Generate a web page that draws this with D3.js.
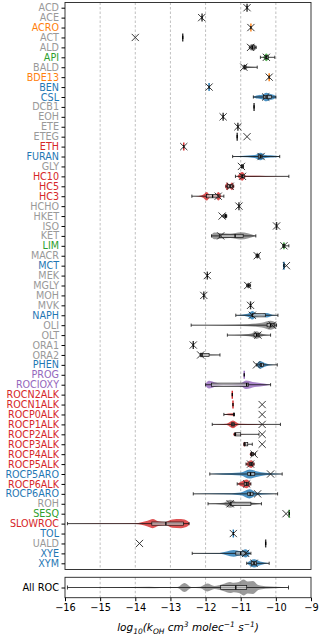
<!DOCTYPE html>
<html>
<head>
<meta charset="utf-8">
<script src="https://cdn.jsdelivr.net/npm/d3@7"></script>
<style>
  body { margin: 0; background: #fff; }
  text { font-family: "DejaVu Sans", sans-serif; }
</style>
</head>
<body>
<div id="chart"></div>
<script>
// species shown on the y axis, top to bottom
var species = ["ACD","ACE","ACRO","ACT","ALD","API","BALD","BDE13","BEN","CSL","DCB1","EOH","ETE","ETEG","ETH","FURAN","GLY","HC10","HC5","HC3","HCHO","HKET","ISO","KET","LIM","MACR","MCT","MEK","MGLY","MOH","MVK","NAPH","OLI","OLT","ORA1","ORA2","PHEN","PROG","ROCIOXY","ROCN2ALK","ROCN1ALK","ROCP0ALK","ROCP1ALK","ROCP2ALK","ROCP3ALK","ROCP4ALK","ROCP5ALK","ROCP5ARO","ROCP6ALK","ROCP6ARO","ROH","SESQ","SLOWROC","TOL","UALD","XYE","XYM"];

// colour group of each species
var group = ["gray","gray","orange","gray","gray","green","gray","orange","blue","blue","gray","gray","gray","gray","red","blue","gray","red","red","red","gray","gray","gray","gray","green","gray","blue","gray","gray","gray","gray","blue","gray","gray","gray","gray","blue","purple","purple","red","red","red","red","red","red","red","red","blue","red","blue","gray","green","red","blue","gray","blue","blue"];

// log10 kOH of the mechanism surrogate (x marker), null = none
var surrogateK = [-10.82,-12.11,-10.71,-14.0,-10.72,-10.27,-10.91,-10.19,-11.9,-10.29,null,-11.5,-11.08,-10.82,-12.62,-10.42,-10.98,-10.95,-11.3,-11.64,-11.05,-11.53,-9.98,-11.57,-9.77,-10.53,-9.7,-11.95,-10.8,-12.05,-10.72,-10.67,-10.1,-10.51,-12.35,-12.14,-10.55,null,null,null,-10.39,-10.39,-10.39,-10.39,-10.39,-10.62,-10.72,-10.15,-10.83,-10.52,-11.3,-9.71,null,-11.21,-13.88,-10.86,-10.62];

// box stats of mapped species: [min, q1, median, q3, max]
var boxStats = [
  [-10.82,-10.82,-10.82,-10.82,-10.82],
  [-12.1,-12.1,-12.1,-12.1,-12.1],
  [-10.71,-10.71,-10.71,-10.71,-10.71],
  [-12.65,-12.65,-12.65,-12.65,-12.65],
  [-10.74,-10.7,-10.66,-10.6,-10.56],
  [-10.44,-10.3,-10.27,-10.22,-10.03],
  [-10.91,-10.9,-10.88,-10.85,-10.53],
  [-10.19,-10.19,-10.19,-10.19,-10.19],
  [-11.9,-11.9,-11.9,-11.9,-11.9],
  [-10.64,-10.35,-10.25,-10.12,-10.0],
  [-10.62,-10.62,-10.62,-10.62,-10.62],
  [-11.5,-11.5,-11.5,-11.5,-11.5],
  [-11.08,-11.08,-11.08,-11.08,-11.08],
  [-11.1,-11.1,-11.1,-11.1,-11.1],
  [-12.62,-12.62,-12.62,-12.62,-12.62],
  [-11.23,-10.5,-10.44,-10.4,-9.89],
  [-10.98,-10.98,-10.96,-10.93,-10.92],
  [-11.15,-10.98,-10.95,-10.9,-9.63],
  [-11.42,-11.38,-11.3,-11.24,-11.2],
  [-12.39,-11.97,-11.8,-11.64,-11.48],
  [-11.05,-11.05,-11.05,-11.05,-11.05],
  [-11.5,-11.45,-11.43,-11.42,-11.4],
  [-9.98,-9.98,-9.98,-9.98,-9.98],
  [-11.83,-11.6,-11.16,-10.93,-10.57],
  [-9.8,-9.78,-9.77,-9.75,-9.63],
  [-10.56,-10.54,-10.53,-10.5,-10.48],
  [-9.77,-9.77,-9.77,-9.77,-9.77],
  [-11.95,-11.95,-11.95,-11.95,-11.95],
  [-10.83,-10.8,-10.78,-10.76,-10.72],
  [-12.05,-12.05,-12.05,-12.05,-12.05],
  [-10.72,-10.72,-10.72,-10.72,-10.72],
  [-11.14,-10.67,-10.67,-10.3,-9.94],
  [-12.41,-10.25,-10.15,-10.05,-9.98],
  [-11.38,-10.62,-10.55,-10.48,-10.15],
  [-12.35,-12.35,-12.35,-12.35,-12.35],
  [-12.14,-12.14,-12.1,-11.9,-11.59],
  [-10.55,-10.45,-10.42,-10.35,-9.96],
  [-10.9,-10.9,-10.9,-10.9,-10.9],
  [-12.0,-11.83,-10.83,-10.78,-10.15],
  [-11.24,-11.24,-11.24,-11.24,-11.24],
  [-11.22,-11.22,-11.22,-11.22,-11.22],
  [-11.48,-11.2,-11.19,-11.19,-11.19],
  [-11.81,-11.26,-11.22,-11.18,-9.87],
  [-11.18,-11.16,-11.15,-11.0,-10.48],
  [-10.91,-10.9,-10.88,-10.8,-10.67],
  [-10.72,-10.7,-10.68,-10.64,-10.58],
  [-10.85,-10.74,-10.7,-10.66,-10.62],
  [-11.88,-10.8,-10.72,-10.6,-9.82],
  [-11.1,-10.9,-10.83,-10.78,-10.71],
  [-12.35,-10.8,-10.73,-10.65,-9.95],
  [-11.93,-11.3,-11.28,-10.71,-10.41],
  [-9.62,-9.62,-9.62,-9.62,-9.62],
  [-15.93,-13.53,-13.13,-12.63,-12.47],
  [-11.21,-11.21,-11.21,-11.21,-11.21],
  [-10.29,-10.29,-10.29,-10.29,-10.29],
  [-12.38,-11.14,-11.0,-10.86,-10.71],
  [-10.83,-10.7,-10.62,-10.55,-10.19]
];

// violin density knots [log10 k, relative density], empty = single value
var densities = [
  [],[],[],[],
  [[-10.78,0],[-10.72,0.6],[-10.66,0.7],[-10.6,0.6],[-10.55,0]],
  [[-10.36,0],[-10.27,0.8],[-10.19,0]],
  [[-10.95,0],[-10.9,0.6],[-10.82,0.2],[-10.6,0.05],[-10.53,0]],
  [],[],
  [[-10.66,0],[-10.55,0.3],[-10.4,0.45],[-10.27,0.9],[-10.15,0.6],[-10.05,0.4],[-9.98,0]],
  [],[],[],[],[],
  [[-11.25,0],[-11.0,0.1],[-10.6,0.3],[-10.44,0.8],[-10.3,0.3],[-10.0,0.15],[-9.88,0]],
  [[-11.0,0],[-10.96,0.4],[-10.92,0]],
  [[-11.1,0],[-10.95,0.9],[-10.85,0.15],[-10.3,0.1],[-9.68,0]],
  [[-11.45,0],[-11.38,0.8],[-11.32,0.3],[-11.25,0.8],[-11.18,0]],
  [[-12.4,0],[-12.2,0.05],[-12.05,0.4],[-11.97,0.9],[-11.85,0.1],[-11.72,0.2],[-11.64,0.9],[-11.55,0]],
  [],
  [[-11.5,0],[-11.43,0.6],[-11.38,0]],
  [],
  [[-11.85,0],[-11.75,0.7],[-11.55,0.55],[-11.3,0.45],[-11.0,0.75],[-10.8,0.55],[-10.6,0.1],[-10.55,0]],
  [[-9.82,0],[-9.77,0.8],[-9.72,0]],
  [[-10.58,0],[-10.53,0.7],[-10.48,0]],
  [[-9.8,0],[-9.77,0.7],[-9.74,0]],
  [],
  [[-10.84,0],[-10.78,0.6],[-10.72,0]],
  [],[],
  [[-11.15,0],[-10.8,0.3],[-10.67,0.9],[-10.55,0.3],[-10.4,0.2],[-10.26,0.45],[-10.1,0.1],[-9.93,0]],
  [[-12.41,0],[-11.5,0.05],[-10.8,0.2],[-10.4,0.5],[-10.15,0.95],[-10.0,0.5],[-9.97,0]],
  [[-11.38,0],[-11.0,0.1],[-10.7,0.35],[-10.55,0.8],[-10.4,0.3],[-10.15,0]],
  [],
  [[-12.18,0],[-12.14,0.5],[-12.0,0.1],[-11.6,0]],
  [[-10.56,0],[-10.45,0.8],[-10.35,0.5],[-10.2,0.15],[-9.96,0]],
  [],
  [[-12.02,0],[-11.9,0.8],[-11.75,0.5],[-11.5,0.1],[-11.0,0.3],[-10.85,0.9],[-10.6,0.5],[-10.3,0.2],[-10.15,0]],
  [],[],
  [[-11.48,0],[-11.22,0.25],[-11.18,0]],
  [[-11.81,0],[-11.4,0.15],[-11.22,0.8],[-11.05,0.15],[-10.5,0.05],[-9.87,0]],
  [[-11.22,0],[-11.17,0.4],[-11.1,0.05],[-10.48,0]],
  [[-10.93,0],[-10.9,0.5],[-10.85,0]],
  [[-10.75,0],[-10.7,0.4],[-10.6,0]],
  [[-10.86,0],[-10.7,0.8],[-10.6,0]],
  [[-11.9,0],[-11.5,0.15],[-11.0,0.3],[-10.75,0.95],[-10.55,0.6],[-10.3,0.25],[-10.0,0.1],[-9.82,0]],
  [[-11.1,0],[-10.95,0.6],[-10.83,0.9],[-10.75,0.5],[-10.7,0]],
  [[-12.35,0],[-11.5,0.1],[-11.0,0.3],[-10.75,0.95],[-10.55,0.3],[-10.2,0.08],[-9.95,0]],
  [[-11.93,0],[-11.5,0.2],[-11.3,0.85],[-11.1,0.3],[-10.8,0.3],[-10.41,0]],
  [],
  [[-15.95,0],[-15.0,0.05],[-14.0,0.1],[-13.65,0.6],[-13.5,0.95],[-13.35,0.5],[-13.15,0.35],[-12.95,0.85],[-12.7,0.95],[-12.5,0.5],[-12.45,0]],
  [],[],
  [[-12.38,0],[-11.6,0.1],[-11.2,0.7],[-11.0,0.45],[-10.87,0.85],[-10.72,0]],
  [[-10.83,0],[-10.62,0.85],[-10.45,0.4],[-10.19,0]]
];

// all ROC species together (bottom panel)
var allRocStats = [-15.93,-11.57,-11.14,-10.83,-9.64];
var allRocDensity = [[-15.93,0],[-14.5,0.03],[-13.6,0.1],[-13.3,0.05],[-12.8,0.05],[-12.6,0.55],[-12.4,0.05],[-12.15,0.1],[-11.95,0.5],[-11.75,0.2],[-11.5,0.45],[-11.3,0.7],[-11.2,0.6],[-11.05,0.7],[-10.92,1.0],[-10.8,0.75],[-10.65,0.8],[-10.5,0.3],[-10.3,0.15],[-10.0,0.08],[-9.64,0]];

var xTicks = [-16,-15,-14,-13,-12,-11,-10,-9];

var colors = {gray:"#7f7f7f", orange:"#ff7f0e", green:"#2ca02c", blue:"#1f77b4", red:"#d62728", purple:"#9467bd"};
var labelColors = {gray:"#999999", orange:"#ff7f0e", green:"#2ca02c", blue:"#1f77b4", red:"#d62728", purple:"#9467bd"};

// dimensiones
var width = 320, height = 636;
var left = 65, right = 311;
var topY0 = 2.5, topY1 = 569.5;
var botY0 = 577.3, botY1 = 597.7, botMid = 587.5;

var svg = d3.select("#chart").append("svg")
  .attr("width", width)
  .attr("height", height);

var x = d3.scaleLinear().domain([-16, -9]).range([left, right]);
var y = d3.scalePoint().domain(species).range([7.7, 563.3]);
var w = d3.scaleLinear().domain([0, 1]).range([0, 4.8]);
var wAll = d3.scaleLinear().domain([0, 1]).range([0, 8]);

// gridlines
[[topY0, topY1], [botY0, botY1]].forEach(function(p) {
  svg.append("g").selectAll("line")
    .data(xTicks.slice(1, -1))
    .enter().append("line")
    .attr("x1", function(d) { return x(d); })
    .attr("x2", function(d) { return x(d); })
    .attr("y1", p[0]).attr("y2", p[1])
    .attr("stroke", "#b0b0b0")
    .attr("stroke-width", 0.8)
    .attr("stroke-dasharray", "2.5,2");
});

function drawRow(g, stats, dens, color, wScale, boxH) {
  if (dens.length) {
    var area = d3.area()
      .x(function(d) { return x(d[0]); })
      .y0(function(d) { return -wScale(d[1]); })
      .y1(function(d) { return wScale(d[1]); })
      .curve(d3.curveMonotoneX);
    g.append("path")
      .attr("d", area(dens))
      .attr("fill", color)
      .attr("fill-opacity", 0.8);
  }
  var lo = stats[0], q1 = stats[1], med = stats[2], q3 = stats[3], hi = stats[4];
  if (lo === hi) {
    g.append("line")
      .attr("x1", x(med)).attr("x2", x(med))
      .attr("y1", -4).attr("y2", 4)
      .attr("stroke", color === colors.gray ? "#333" : color)
      .attr("stroke-width", 1.4);
  } else {
    g.append("line")
      .attr("x1", x(lo)).attr("x2", x(hi))
      .attr("y1", 0).attr("y2", 0)
      .attr("stroke", "#111").attr("stroke-width", 0.8);
    [lo, hi].forEach(function(v) {
      g.append("line")
        .attr("x1", x(v)).attr("x2", x(v))
        .attr("y1", -boxH).attr("y2", boxH)
        .attr("stroke", "#111").attr("stroke-width", 0.8);
    });
    g.append("rect")
      .attr("x", x(q1)).attr("y", -boxH)
      .attr("width", Math.max(0.5, x(q3) - x(q1)))
      .attr("height", boxH * 2)
      .attr("fill", "#e6e6e6").attr("fill-opacity", 0.6)
      .attr("stroke", "#111").attr("stroke-width", 0.7);
  }
  g.append("line")
    .attr("x1", x(med)).attr("x2", x(med))
    .attr("y1", -boxH).attr("y2", boxH)
    .attr("stroke", "#000").attr("stroke-width", 1.3);
}

var rows = svg.append("g").selectAll("g")
  .data(species)
  .enter().append("g")
  .attr("transform", function(d) { return "translate(0," + y(d) + ")"; });

rows.each(function(d, i) {
  drawRow(d3.select(this), boxStats[i], densities[i], colors[group[i]], w, 1.6);
});

// surrogate markers
var cross = "M-3.6,-3.6L3.6,3.6M-3.6,3.6L3.6,-3.6";
rows.filter(function(d, i) { return surrogateK[i] !== null; })
  .append("path")
  .attr("d", cross)
  .attr("transform", function(d) { return "translate(" + x(surrogateK[species.indexOf(d)]) + ",0)"; })
  .attr("fill", "none")
  .attr("stroke", "#222")
  .attr("stroke-width", 0.9);

// bottom panel
var allG = svg.append("g").attr("transform", "translate(0," + botMid + ")");
drawRow(allG, allRocStats, allRocDensity, "#7f7f7f", wAll, 2);

// frames
svg.append("rect")
  .attr("x", left).attr("y", topY0)
  .attr("width", right - left).attr("height", topY1 - topY0)
  .attr("fill", "none").attr("stroke", "#222").attr("stroke-width", 0.9);
svg.append("rect")
  .attr("x", left).attr("y", botY0)
  .attr("width", right - left).attr("height", botY1 - botY0)
  .attr("fill", "none").attr("stroke", "#222").attr("stroke-width", 0.9);

// y axis
var yAxis = svg.append("g")
  .attr("transform", "translate(" + left + ",0)")
  .call(d3.axisLeft(y).tickSize(3.5).tickPadding(2.5));
yAxis.select(".domain").remove();
yAxis.selectAll("text")
  .style("font-family", "DejaVu Sans")
  .style("font-size", "9.6px")
  .attr("fill", function(d) { return labelColors[group[species.indexOf(d)]]; });

var yAll = d3.scalePoint().domain(["All ROC"]).range([botMid, botMid]);
var yAllAxis = svg.append("g")
  .attr("transform", "translate(" + left + ",0)")
  .call(d3.axisLeft(yAll).tickSize(3.5).tickPadding(2.5));
yAllAxis.select(".domain").remove();
yAllAxis.selectAll("text")
  .style("font-family", "DejaVu Sans")
  .style("font-size", "9.8px")
  .attr("fill", "#000");

// x axis
var xAxis = svg.append("g")
  .attr("transform", "translate(0," + botY1 + ")")
  .call(d3.axisBottom(x).tickValues(xTicks).tickFormat(d3.format("d")).tickSize(3.5).tickPadding(2.5));
xAxis.select(".domain").remove();
xAxis.selectAll("text")
  .style("font-family", "DejaVu Sans")
  .style("font-size", "9.8px");

// axis title
var title = svg.append("text")
  .attr("x", (left + right) / 2)
  .attr("y", 631)
  .attr("text-anchor", "middle")
  .style("font-size", "10.5px")
  .style("font-style", "italic");
var parts = [["log", 0], ["10", 1], ["(k", 0], ["OH", 1], [" cm", 0], ["3", -1], [" molec", 0], ["\u22121", -1], [" s", 0], ["\u22121", -1], [")", 0]];
var shift = 0;
parts.forEach(function(p) {
  var target = p[1] === 1 ? 3 : (p[1] === -1 ? -4 : 0);
  title.append("tspan")
    .attr("dy", target - shift)
    .style("font-size", p[1] === 0 ? "10.5px" : "7.5px")
    .text(p[0]);
  shift = target;
});
</script>
</body>
</html>
